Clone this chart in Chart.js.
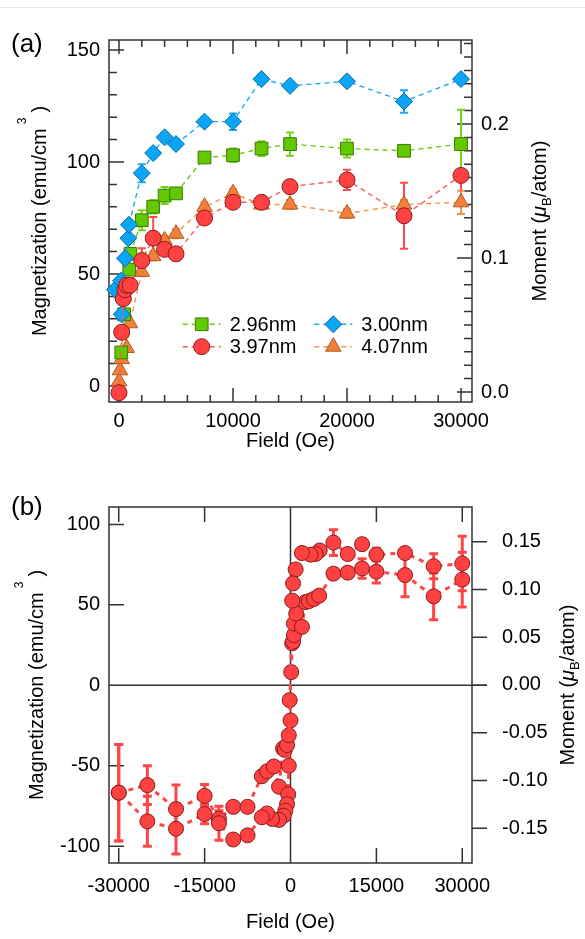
<!DOCTYPE html>
<html>
<head>
<meta charset="utf-8">
<script src="https://cdn.jsdelivr.net/npm/chart.js@4.4.1/dist/chart.umd.min.js"></script>
<style>
  body { margin: 0; background: #fff; width: 585px; height: 939px; overflow: hidden; position: relative; }
  #topline { position: absolute; left: 0; top: 7px; width: 585px; height: 1px; background: #e8e8e8; }
  canvas { position: absolute; left: 0; }
  #chartA { top: 0; }
  #chartB { top: 465px; }
</style>
</head>
<body>
<div id="topline"></div>
<canvas id="chartA" width="585" height="465"></canvas>
<canvas id="chartB" width="585" height="474"></canvas>
<script>
const FONT = "'Liberation Sans', Arial, Helvetica, sans-serif";

// (a) magnetization vs field, four film thicknesses
const field296 = [200, 450, 900, 1000, 2000, 3000, 4000, 5000, 7500, 10000, 12500, 15000, 20000, 25000, 30000];
const mag296   = [15, 32, 52, 59, 74, 80, 85, 86, 102, 103, 106, 108, 106, 105, 108];
const err296   = [2, 2, 2, 2, 4.5, 3, 3.8, 2, 2, 3, 3.3, 5.2, 4, 2, 15.3];

const field300 = [-350, 175, 236, 526, 820, 877, 2000, 3000, 4000, 5000, 7500, 10000, 12500, 15000, 20000, 25000, 30000];
const mag300   = [43, 47, 32, 57, 66, 72, 95, 104, 111, 108, 118, 118, 137, 134, 136, 127, 137];
const err300   = [2, 2, 2, 2, 2, 2, 4, 2, 2, 2, 2, 3.7, 2, 2, 2, 5, 2];

const field397 = [0, 236, 380, 526, 675, 965, 2000, 3000, 4000, 5000, 7500, 10000, 12500, 15000, 20000, 25000, 30000];
const mag397   = [-3, 24, 39, 43, 45, 45, 56, 66, 61, 59, 75, 82, 82, 89, 92, 76, 94];
const err397   = [2, 2, 2, 2, 2, 2, 5.5, 9.4, 2, 2, 2, 2, 2, 3, 4.5, 14.7, 12.4];

const field407 = [0, 90, 236, 675, 965, 2000, 3000, 4000, 5000, 7500, 10000, 12500, 15000, 20000, 25000, 30000];
const mag407   = [2, 7, 12, 17, 28, 51, 58, 65, 68, 80, 86, 81, 81, 77, 81, 82];
const err407   = [1, 1, 1, 1, 1, 2, 2, 2, 2, 2, 2, 2, 2, 2, 2, 5.2];

const fieldTicksA  = [0, 10000, 20000, 30000];
const magTicksA    = [0, 50, 100, 150];
const momentTicksA = [0, 0.1, 0.2];

// (b) hysteresis loop, 3.97nm film
const fieldDown = [30000, 25000, 20000, 15000, 12500, 10000, 7500, 5100, 4400, 3500, 2000, 900, 450, 300,
                   -300, -400, -600, -900, -1200, -2000, -3200, -4100, -5000, -7500, -10000, -12500, -15000, -20000, -25000, -30000];
const magDown   = [75.7, 74, 82.2, 81.2, 87.7, 81.6, 88.7, 83.8, 81.6, 81.2, 82.2, 72, 63.3, 52.6,
                   -50, -67.7, -73.8, -77.9, -81, -83.6, -83, -79.6, -82, -93.2, -95.8, -85.7, -80, -89.1, -84.5, -66.7];
const errDown   = [17, 7.8, 3, 4, 3, 3, 8, 3, 3, 3, 3, 3, 3, 3,
                   3, 3, 3, 3, 3, 3, 3, 3, 3, 3, 3, 10.6, 6, 15.7, 15.5, 30];

const fieldUp = [-30000, -25000, -20000, -15000, -12500, -10000, -7500, -5000, -4100, -2900, -2000, -1300, -1000, -600, -300, 0,
                 -150, 120, 300, 450, 600, 600, 1000, 2000, 2600, 3200, 4100, 5000, 7500, 10000, 12500, 15000, 20000, 25000, 30000];
const magUp   = [-66.7, -62, -76.9, -68.7, -83, -75.5, -75.5, -56.5, -53.4, -50.4, -63, -39.2, -40.1, -37.1, -31, -21.8,
                 -9.2, 8.2, 26.1, 27.2, 31.2, 38.4, 44.5, 36.3, 51.7, 52.3, 53.7, 55.7, 69.4, 70, 72.6, 70.6, 68.5, 55.3, 65.7];
const errUp   = [30, 12, 15, 7, 5, 3, 3, 3, 3, 3, 3, 3, 3, 3, 3, 3,
                 3, 3, 3, 3, 3, 3, 3, 3, 3, 3, 3, 3, 3, 3, 6, 7, 13.5, 14.5, 17];

const fieldTicksB  = [-30000, -15000, 0, 15000, 30000];
const magTicksB    = [-100, -50, 0, 50, 100];
const momentTicksB = [-0.15, -0.10, -0.05, 0, 0.05, 0.10, 0.15];

function pts(xs, ys) {
    return xs.map((x, i) => ({ x: x, y: ys[i] }));
}

function steps(from, to, step) {
    return Array.from({ length: Math.round((to - from) / step) + 1 }, (_, i) => from + i * step);
}

// vertical error bars, drawn under the markers
const errorBars = {
    id: 'errorBars',
    beforeDatasetsDraw(chart) {
        const ctx = chart.ctx;
        const ys = chart.scales.y;
        chart.data.datasets.forEach((ds, di) => {
            if (!ds.errors) return;
            const meta = chart.getDatasetMeta(di);
            ctx.save();
            ctx.strokeStyle = ds.errColor;
            ctx.lineWidth = ds.errWidth;
            ctx.setLineDash([]);
            ctx.beginPath();
            meta.data.forEach((pt, i) => {
                const v = ds.data[i].y, e = ds.errors[i];
                const top = ys.getPixelForValue(v + e), bot = ys.getPixelForValue(v - e);
                const cw = ds.capWidth;
                ctx.moveTo(pt.x, top); ctx.lineTo(pt.x, bot);
                ctx.moveTo(pt.x - cw, top); ctx.lineTo(pt.x + cw, top);
                ctx.moveTo(pt.x - cw, bot); ctx.lineTo(pt.x + cw, bot);
            });
            ctx.stroke();
            ctx.restore();
        });
    }
};

// frame box, tick marks, zero lines
const frame = {
    id: 'frame',
    beforeDatasetsDraw(chart, args, o) {
        const { ctx, chartArea: a, scales } = chart;
        ctx.save();
        ctx.strokeStyle = '#333';
        ctx.lineWidth = 1.5;
        ctx.setLineDash([]);
        ctx.beginPath();
        if (o.zeroLines) {
            const y0 = scales.y.getPixelForValue(0), x0 = scales.x.getPixelForValue(0);
            ctx.moveTo(a.left, y0); ctx.lineTo(a.right + o.zeroExtend, y0);
            ctx.moveTo(x0, a.top); ctx.lineTo(x0, a.bottom);
        }
        o.marks.forEach(m => {
            const s = scales[m.axis];
            m.values.forEach(v => {
                const p = s.getPixelForValue(v);
                if (m.side === 'bottom') { ctx.moveTo(p, a.bottom); ctx.lineTo(p, a.bottom - m.len); }
                if (m.side === 'top') { ctx.moveTo(p, a.top); ctx.lineTo(p, a.top + m.len); }
                if (m.side === 'left') { ctx.moveTo(a.left, p); ctx.lineTo(a.left + m.len, p); }
                if (m.side === 'right') { ctx.moveTo(a.right, p); ctx.lineTo(a.right - m.len, p); }
            });
        });
        ctx.stroke();
        ctx.strokeRect(a.left, a.top, a.right - a.left, a.bottom - a.top);
        ctx.restore();
    }
};

function rotatedText(ctx, x, cy, parts) {
    ctx.save();
    ctx.translate(x, cy);
    ctx.rotate(-Math.PI / 2);
    ctx.textBaseline = 'alphabetic';
    ctx.textAlign = 'left';
    ctx.fillStyle = '#000';
    let total = 0;
    parts.forEach(p => {
        ctx.font = p.font;
        p.w = ctx.measureText(p.text).width;
        total += p.w + (p.gap || 0);
    });
    let cx = -total / 2;
    parts.forEach(p => {
        ctx.font = p.font;
        cx += (p.gap || 0);
        ctx.fillText(p.text, cx, p.dy || 0);
        cx += p.w;
    });
    ctx.restore();
}

// axis titles on y, panel letter and the inset legend
const texts = {
    id: 'texts',
    afterDraw(chart, args, o) {
        const { ctx, chartArea: a } = chart;
        const cy = (a.top + a.bottom) / 2;
        const f = '20px ' + FONT;
        rotatedText(ctx, o.leftX, cy, [
            { text: 'Magnetization (emu/cm', font: f },
            { text: '3', font: '12px ' + FONT, dy: -20, gap: 4 },
            { text: ')', font: f, gap: 5 }
        ]);
        rotatedText(ctx, o.rightX, cy, [
            { text: 'Moment (', font: f },
            { text: 'μ', font: 'italic ' + f },
            { text: 'B', font: '13px ' + FONT, dy: 5 },
            { text: '/atom)', font: f }
        ]);
        ctx.save();
        ctx.fillStyle = '#000';
        ctx.font = '26px ' + FONT;
        ctx.textBaseline = 'middle';
        ctx.textAlign = 'left';
        ctx.fillText(o.letter, 11, o.letterY);
        if (o.legend) {
            o.legend.forEach(it => {
                const ds = chart.data.datasets[it.ds];
                ctx.strokeStyle = ds.borderColor;
                ctx.lineWidth = ds.borderWidth;
                ctx.setLineDash(ds.borderDash);
                ctx.beginPath();
                ctx.moveTo(it.x - 19, it.y); ctx.lineTo(it.x + 19, it.y);
                ctx.stroke();
                ctx.setLineDash([]);
                ctx.fillStyle = ds.pointBackgroundColor;
                ctx.strokeStyle = ds.pointBorderColor;
                ctx.lineWidth = ds.pointBorderWidth;
                Chart.helpers.drawPoint(ctx, { pointStyle: ds.pointStyle, radius: ds.pointRadius, rotation: 0, borderWidth: ds.pointBorderWidth }, it.x, it.y);
                ctx.fillStyle = '#000';
                ctx.font = '20px ' + FONT;
                ctx.fillText(ds.label, it.x + 28, it.y + 1);
            });
        }
        ctx.restore();
    }
};

function scale(min, max, pos, tickVals, fmt, pad, size) {
    return {
        type: 'linear', position: pos, min: min, max: max, bounds: 'data',
        grid: { display: false, drawTicks: false },
        border: { display: false },
        afterBuildTicks: s => { s.ticks = tickVals.map(v => ({ value: v })); },
        afterFit: s => {
            if (pos === 'bottom') s.height = size; else s.width = size;
        },
        ticks: { padding: pad, color: '#000', autoSkip: false, maxRotation: 0, font: { family: FONT, size: 20 }, callback: fmt }
    };
}

function series(label, xs, ys, errs, style, radius, fill, edge, line, errColor) {
    return {
        label: label, data: pts(xs, ys), errors: errs,
        pointStyle: style, pointRadius: radius, pointBackgroundColor: fill, pointBorderColor: edge,
        pointBorderWidth: 1, borderColor: line, backgroundColor: fill, borderWidth: 1.4,
        borderDash: [5, 4], errColor: errColor, errWidth: 2, capWidth: 4, tension: 0, clip: false
    };
}

const dataA = {
    datasets: [
        series('3.97nm', field397, mag397, err397, 'circle', 8, '#ff4141', '#8a1c1c', '#ff5a5a', '#ff4a4a'),
        series('3.00nm', field300, mag300, err300, 'rectRot', 8.5, '#0aa6f5', '#0a6ea8', '#1aaaf5', '#1aaaf5'),
        series('2.96nm', field296, mag296, err296, 'rect', 9, '#62c800', '#3b7a00', '#6ccc10', '#74d414'),
        series('4.07nm', field407, mag407, err407, 'triangle', 9, '#f2803c', '#b05a1c', '#f7904c', '#f7904c')
    ]
};

new Chart(document.getElementById('chartA'), {
    type: 'line',
    data: dataA,
    options: {
        responsive: false,
        animation: false,
        layout: { padding: { top: 40, left: 0, right: 0, bottom: 0 } },
        plugins: {
            legend: { display: false },
            tooltip: { enabled: false },
            frame: {
                zeroLines: false,
                marks: [
                    { axis: 'x', side: 'bottom', len: 14, values: fieldTicksA },
                    { axis: 'x', side: 'bottom', len: 7, values: steps(0, 30000, 2000) },
                    { axis: 'x', side: 'top', len: 14, values: fieldTicksA },
                    { axis: 'x', side: 'top', len: 7, values: steps(0, 30000, 2000) },
                    { axis: 'y', side: 'left', len: 15, values: magTicksA },
                    { axis: 'y', side: 'left', len: 8, values: steps(0, 150, 10) },
                    { axis: 'y2', side: 'right', len: 15, values: momentTicksA },
                    { axis: 'y2', side: 'right', len: 8, values: steps(0, 0.26, 0.01) }
                ]
            },
            texts: {
                leftX: 46, rightX: 546, letter: '(a)', letterY: 45,
                legend: [
                    { ds: 2, x: 201.7, y: 324.3 },
                    { ds: 0, x: 201.7, y: 346.7 },
                    { ds: 1, x: 333.3, y: 324.3 },
                    { ds: 3, x: 333.3, y: 346.7 }
                ]
            }
        },
        scales: {
            x: Object.assign(scale(-877, 30965, 'bottom', fieldTicksA, v => String(v), 7, 63),
                { title: { display: true, text: 'Field (Oe)', color: '#000', font: { family: FONT, size: 20 }, padding: { top: 0, bottom: 12 } } }),
            y: scale(-7.14, 154.46, 'left', magTicksA, v => String(v), 9, 109),
            y2: scale(-0.00746, 0.2627, 'right', momentTicksA, v => v.toFixed(1), 9, 113)
        }
    },
    plugins: [frame, errorBars, texts]
});

function loopSeries(label, xs, ys, errs) {
    return {
        label: label, data: pts(xs, ys), errors: errs,
        pointStyle: 'circle', pointRadius: 7.5, pointBackgroundColor: '#ff4141', pointBorderColor: '#8a1c1c',
        pointBorderWidth: 1, borderColor: '#ff4646', backgroundColor: '#ff4141', borderWidth: 3,
        borderDash: [5, 5], errColor: '#ff4646', errWidth: 3, capWidth: 4.5, tension: 0, clip: false
    };
}

new Chart(document.getElementById('chartB'), {
    type: 'line',
    data: {
        datasets: [
            loopSeries('descending', fieldDown, magDown, errDown),
            loopSeries('ascending', fieldUp, magUp, errUp)
        ]
    },
    options: {
        responsive: false,
        animation: false,
        layout: { padding: { top: 36.7, left: 0, right: 0, bottom: 0 } },
        plugins: {
            legend: { display: false },
            tooltip: { enabled: false },
            frame: {
                zeroLines: true, zeroExtend: 15,
                marks: [
                    { axis: 'x', side: 'bottom', len: 15, values: fieldTicksB },
                    { axis: 'x', side: 'top', len: 15, values: fieldTicksB },
                    { axis: 'y', side: 'left', len: 15, values: magTicksB },
                    { axis: 'y2', side: 'right', len: -15, values: momentTicksB }
                ]
            },
            texts: { leftX: 43, rightX: 574, letter: '(b)', letterY: 43 }
        },
        scales: {
            x: Object.assign(scale(-31700, 31700, 'bottom', fieldTicksB, v => String(v), 11, 76),
                { title: { display: true, text: 'Field (Oe)', color: '#000', font: { family: FONT, size: 20 }, padding: { top: 0, bottom: 5 } } }),
            y: scale(-110.4, 110.8, 'left', magTicksB, v => String(v), 9, 109),
            y2: scale(-0.1865, 0.1864, 'right', momentTicksB, v => v.toFixed(2), 30, 113)
        }
    },
    plugins: [frame, errorBars, texts]
});
</script>
</body>
</html>
